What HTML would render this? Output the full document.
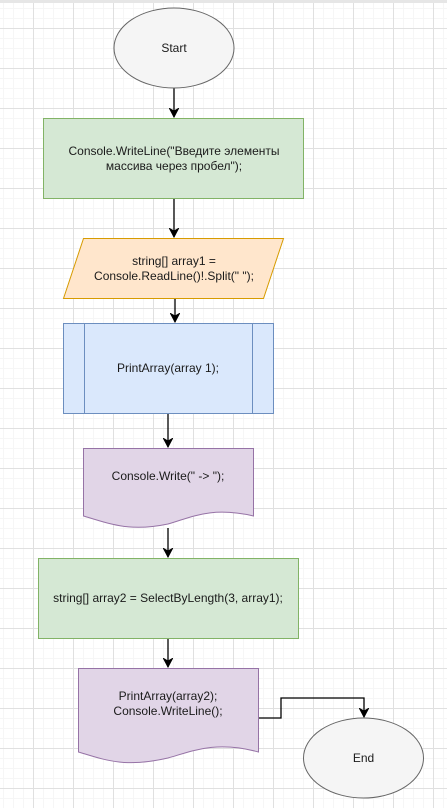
<!DOCTYPE html>
<html><head><meta charset="utf-8"><style>
html,body{margin:0;padding:0;background:#fff;}
body{width:447px;height:808px;overflow:hidden;position:relative;
background-image:
linear-gradient(#e0e0e0 1px,transparent 1px),
linear-gradient(90deg,#e0e0e0 1px,transparent 1px),
linear-gradient(#f6f6f6 1px,transparent 1px),
linear-gradient(90deg,#f6f6f6 1px,transparent 1px);
background-size:40px 40px,40px 40px,10px 10px,10px 10px;
background-position:0 28px,33px 0,0 8px,3px 0;}
svg{position:absolute;left:0;top:0;}
text{font-family:"Liberation Sans",sans-serif;font-size:12px;fill:#1a1a1a;text-anchor:middle;}
</style></head><body>
<div style="position:absolute;left:0;top:0;width:447px;height:3px;background:#e6e6e6"></div>
<svg width="447" height="808" viewBox="0 0 447 808">
<defs><marker id="a" markerWidth="10" markerHeight="10" refX="9" refY="5" orient="auto" markerUnits="userSpaceOnUse"><path d="M0.5,0.5 L9,5 L0.5,9.5 L3,5 Z" fill="#000" stroke="#000" stroke-width="1"/></marker></defs>
<g stroke="#000" stroke-width="1.3" fill="none">
<line x1="174" y1="88" x2="174" y2="117" marker-end="url(#a)"/>
<line x1="174" y1="198" x2="174" y2="237" marker-end="url(#a)"/>
<line x1="175" y1="298" x2="175" y2="322" marker-end="url(#a)"/>
<line x1="168" y1="413" x2="168" y2="447" marker-end="url(#a)"/>
<line x1="168" y1="528" x2="168" y2="557" marker-end="url(#a)"/>
<line x1="168" y1="638" x2="168" y2="667" marker-end="url(#a)"/>
<polyline points="258,718 281,718 281,698 364,698 364,717" marker-end="url(#a)"/>
</g>
<ellipse cx="174" cy="48" rx="60" ry="40" fill="#f5f5f5" stroke="#666"/>
<text x="174" y="52">Start</text>
<rect x="43.5" y="118.5" width="260" height="80" fill="#d5e8d4" stroke="#82b366"/>
<text x="174" y="155">Console.WriteLine("Введите элементы</text>
<text x="174" y="170">массива через пробел");</text>
<polygon points="83.5,238.5 283.5,238.5 263.5,298.5 63.5,298.5" fill="#ffe6cc" stroke="#d79b00"/>
<text x="174" y="265">string[] array1 =</text>
<text x="174" y="280">Console.ReadLine()!.Split(" ");</text>
<rect x="63.5" y="323.5" width="210" height="90" fill="#dae8fc" stroke="#6c8ebf"/>
<line x1="84.5" y1="323.5" x2="84.5" y2="413.5" stroke="#6c8ebf"/>
<line x1="252.5" y1="323.5" x2="252.5" y2="413.5" stroke="#6c8ebf"/>
<text x="168" y="372">PrintArray(array 1);</text>
<path d="M83.5,448.5 H253.5 V516 C210,506 190,518 168,524 C130,532 110,524 83.5,516 Z" fill="#e1d5e7" stroke="#9673a6"/>
<text x="168" y="480">Console.Write(" -> ");</text>
<rect x="38.5" y="558.5" width="260" height="80" fill="#d5e8d4" stroke="#82b366"/>
<text x="168" y="602">string[] array2 = SelectByLength(3, array1);</text>
<path d="M78.5,668.5 H258.5 V752 C215,740 190,752 168,758 C125,768 105,760 78.5,752 Z" fill="#e1d5e7" stroke="#9673a6"/>
<text x="168" y="700">PrintArray(array2);</text>
<text x="168" y="715">Console.WriteLine();</text>
<ellipse cx="363.5" cy="758" rx="60" ry="40" fill="#f5f5f5" stroke="#666"/>
<text x="363.5" y="762">End</text>
</svg>
</body></html>
